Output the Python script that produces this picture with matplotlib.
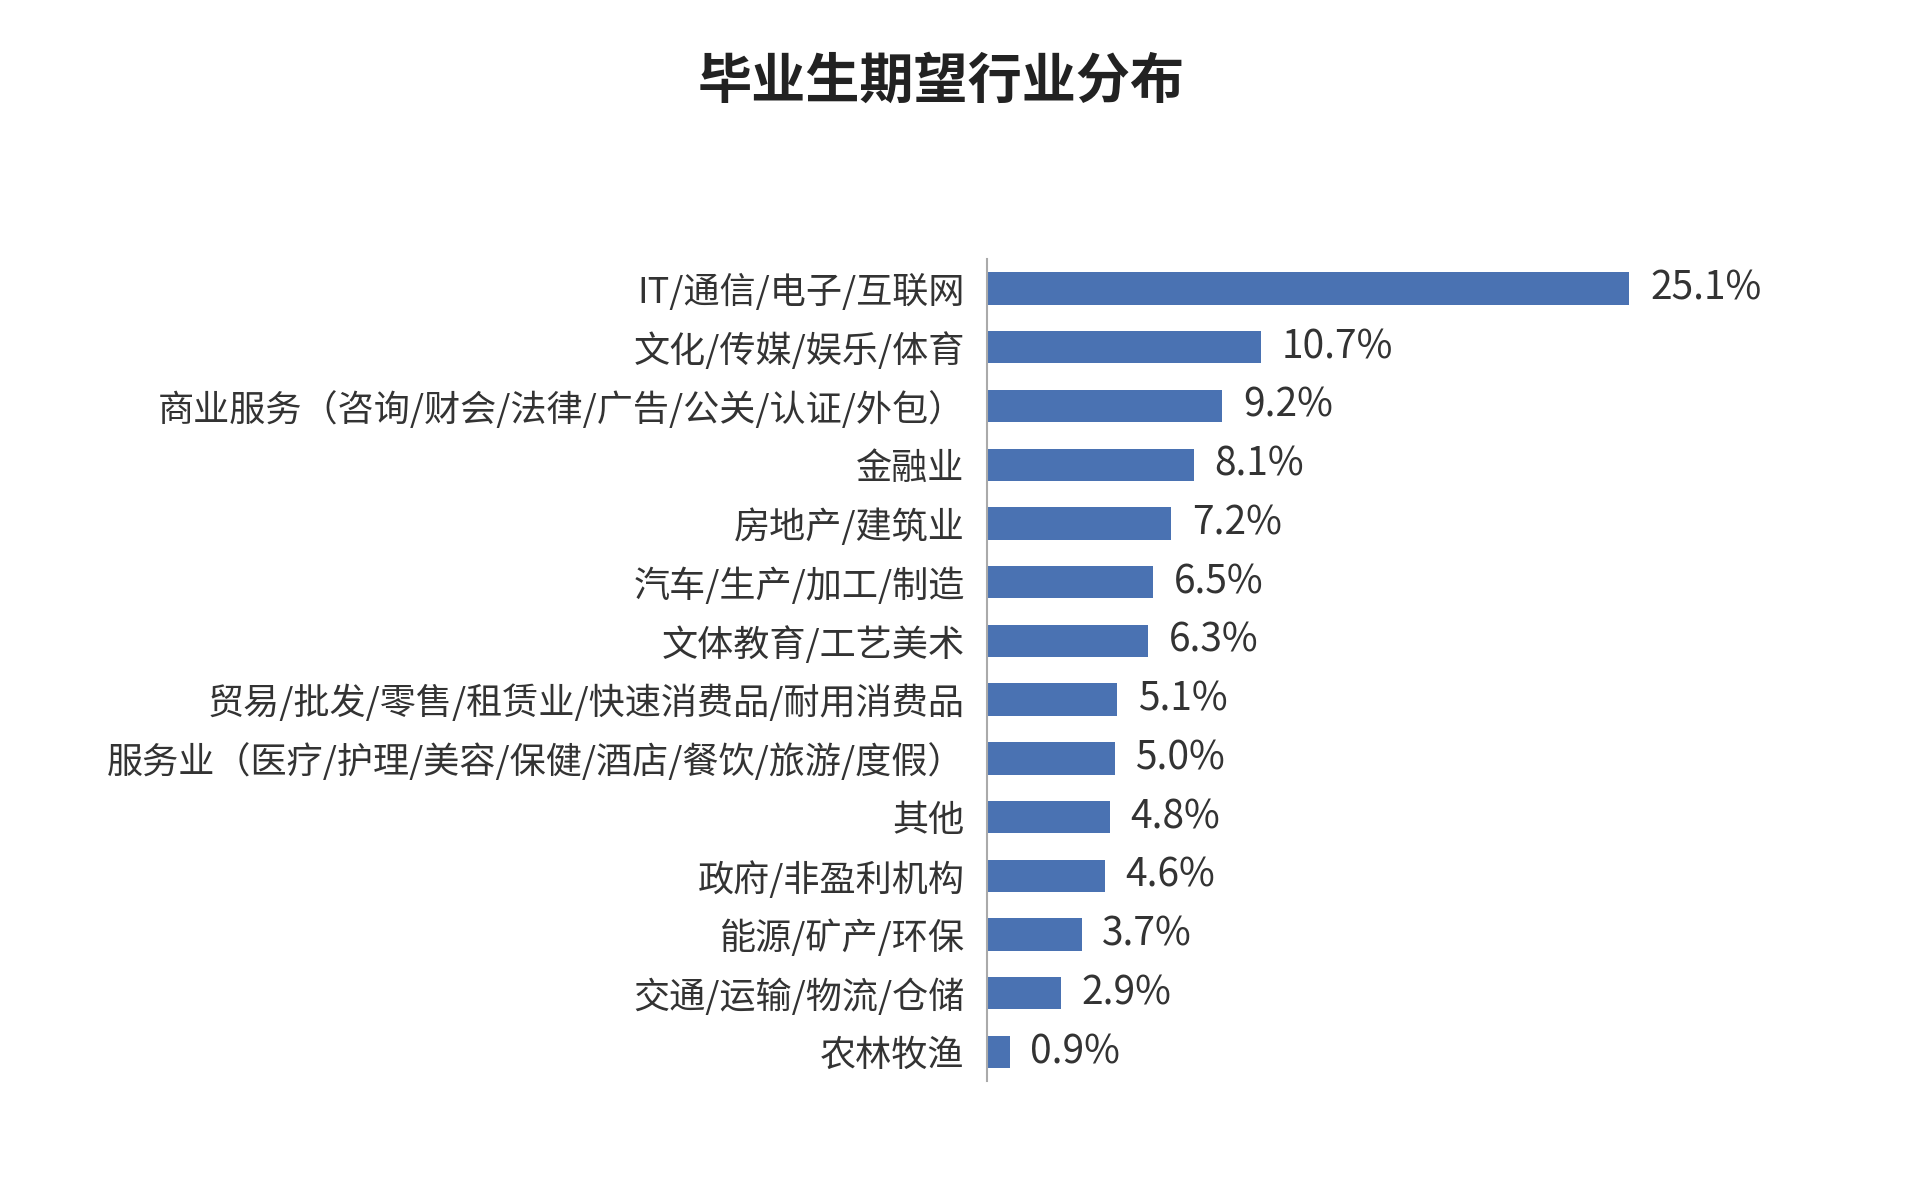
import matplotlib.pyplot as plt

plt.rcParams['font.family'] = ['Noto Sans CJK SC', 'DejaVu Sans']

industries = ['IT/通信/电子/互联网', '文化/传媒/娱乐/体育',
              '商业服务（咨询/财会/法律/广告/公关/认证/外包）', '金融业',
              '房地产/建筑业', '汽车/生产/加工/制造', '文体教育/工艺美术',
              '贸易/批发/零售/租赁业/快速消费品/耐用消费品',
              '服务业（医疗/护理/美容/保健/酒店/餐饮/旅游/度假）', '其他',
              '政府/非盈利机构', '能源/矿产/环保', '交通/运输/物流/仓储', '农林牧渔']
shares = [25.1, 10.7, 9.2, 8.1, 7.2, 6.5, 6.3, 5.1, 5.0, 4.8, 4.6, 3.7, 2.9, 0.9]

fig = plt.figure(figsize=(19.2, 11.78), dpi=100)
ax = fig.add_axes([0.514, 0.082, 0.40, 0.698])
pos = list(range(len(industries)))[::-1]
ax.barh(pos, shares, height=0.55, color='#4a72b2')
for p, v in zip(pos, shares):
    ax.text(v + 0.8, p, f'{v}%', va='center', ha='left', fontsize=28, color='#333333')
ax.set_yticks(pos)
ax.set_yticklabels(industries, fontsize=26, color='#333333')
ax.set_xlim(0, 30)
ax.set_ylim(-0.5, len(industries) - 0.5)
ax.set_xticks([])
ax.tick_params(axis='y', length=0, pad=16)
for s in ['top', 'right', 'bottom']:
    ax.spines[s].set_visible(False)
ax.spines['left'].set_color('#aaaaaa')
ax.spines['left'].set_linewidth(1.5)
fig.text(0.49, 0.93, '毕业生期望行业分布', ha='center', va='center',
         fontsize=39, fontweight='bold', color='#222222')
fig.savefig('out.png')
